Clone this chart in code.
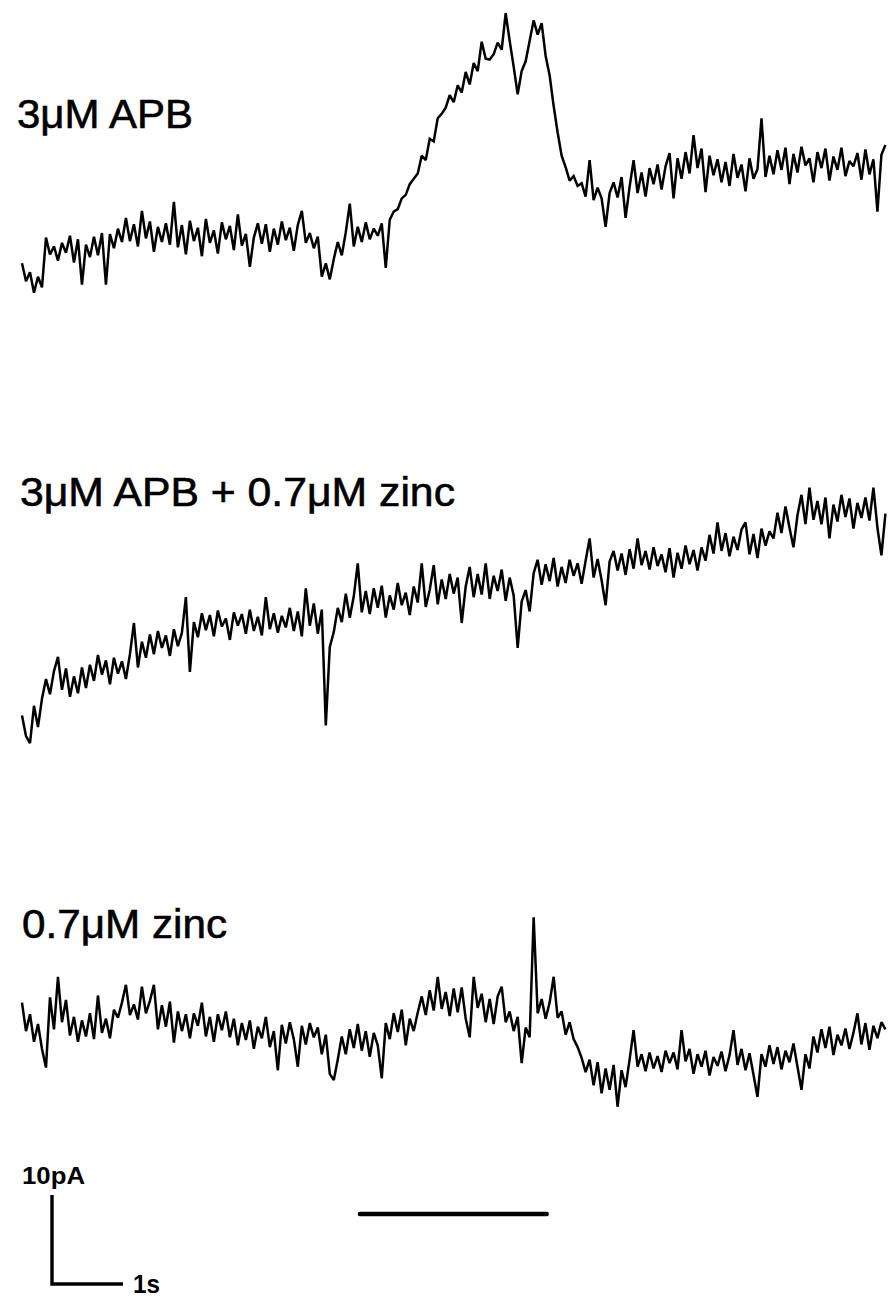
<!DOCTYPE html>
<html>
<head>
<meta charset="utf-8">
<script src="https://cdn.jsdelivr.net/npm/d3@7"></script>
<style>
  body { margin: 0; background: #fff; }
  svg { display: block; }
</style>
</head>
<body>
<div id="container"></div>
<script>
"use strict";

const plotWidth = 889;
const plotHeight = 1297;

// recording: one sample every 56.3 ms, values in pA relative to each trace's baseline
const sampleInterval = 0.0563;

const apbTrace = [
  -1.5, -3.5, -2.5, -4.8, -3.0, -4.2, 1.4, -0.5, 0.4, -1.2,
  0.8, -0.3, 1.6, -1.4, 1.2, -3.9, 0.6, -0.8, 1.5, -0.6,
  1.9, -3.9, 1.8, 0.2, 2.4, 0.9, 3.6, 1.0, 2.9, 0.4,
  4.4, 1.3, 3.2, -0.2, 2.6, 0.9, 3.0, 0.6, 5.4, 0.3,
  2.8, -0.5, 3.3, 1.0, 2.5, -0.7, 3.5, 0.8, 2.2, -0.4,
  3.1, 1.2, 2.7, 0.0, 4.0, 0.5, 1.8, -1.9, 1.4, 3.0,
  0.7, 2.9, -0.2, 2.4, 0.6, 3.2, 1.1, 2.5, -0.1, 2.8,
  4.4, 0.8, 1.9, 0.2, 1.5, -3.0, -1.5, -3.3, -1.0, 0.9,
  -0.6, 2.0, 5.2, 0.4, 2.6, 0.9, 3.1, 1.2, 2.4, 1.6,
  3.0, -2.0, 3.4, 4.3, 4.6, 5.8, 6.2, 7.4, 8.0, 8.6,
  10.6, 10.1, 12.5, 12.2, 14.8, 15.3, 16.0, 17.4, 16.6, 18.5,
  17.7, 20.0, 18.6, 21.0, 20.1, 23.4, 21.5, 21.4, 22.0, 23.3,
  22.5, 26.6, 23.5, 20.6, 17.5, 20.1, 21.2, 23.5, 25.8, 24.2,
  25.5, 21.8, 19.6, 16.2, 13.2, 10.6, 9.3, 7.8, 8.3, 7.2,
  7.5, 6.0, 10.1, 5.6, 7.0, 5.8, 2.6, 6.4, 7.6, 5.9,
  8.2, 3.6, 7.1, 10.1, 6.4, 8.7, 6.0, 9.2, 7.4, 9.6,
  6.8, 9.4, 10.9, 5.8, 10.3, 8.0, 11.0, 8.6, 12.9, 9.2,
  11.4, 6.5, 10.6, 8.4, 10.2, 7.6, 9.9, 7.2, 10.8, 8.1,
  9.6, 6.6, 10.3, 8.0, 9.1, 14.8, 8.2, 10.6, 8.5, 11.2,
  9.0, 11.5, 7.4, 10.8, 8.7, 11.6, 9.5, 10.3, 7.6, 11.0,
  9.2, 11.4, 7.8, 10.5, 9.0, 11.5, 8.3, 10.0, 9.4, 10.9,
  7.9, 11.3, 8.5, 10.2, 4.3, 10.7, 11.8,
];

const apbZincTrace = [
  0.5, -1.8, -2.6, 1.6, -0.8, 2.4, 4.6, 2.9, 5.5, 7.1,
  3.4, 5.8, 2.6, 4.9, 3.0, 5.9, 3.6, 6.2, 4.4, 7.3,
  5.1, 6.7, 4.0, 7.0, 5.2, 6.6, 4.6, 7.4, 10.9, 5.9,
  8.8, 7.0, 9.6, 7.4, 10.0, 8.1, 9.5, 7.2, 10.2, 8.3,
  9.8, 13.8, 5.4, 11.0, 9.3, 12.0, 10.1, 11.8, 9.4, 12.3,
  10.5, 11.4, 9.0, 12.1, 10.6, 11.9, 9.7, 12.4, 10.0, 11.6,
  9.5, 13.8, 10.2, 12.0, 9.8, 11.7, 10.4, 12.6, 10.0, 12.2,
  9.4, 14.8, 10.6, 13.1, 9.7, 12.4, -0.6, 8.2, 9.9, 12.6,
  11.0, 14.2, 11.5, 13.9, 17.6, 12.1, 14.5, 11.9, 14.8, 12.6,
  15.1, 11.5, 14.0, 12.4, 15.4, 12.9, 14.3, 11.8, 15.0, 13.2,
  17.6, 12.7, 14.6, 17.4, 13.0, 15.8, 13.6, 16.4, 14.2, 16.0,
  10.9, 15.0, 17.2, 13.8, 16.4, 14.1, 17.6, 13.6, 16.2, 14.5,
  16.9, 13.4, 16.0, 14.0, 8.1, 13.3, 14.6, 12.2, 16.5, 18.0,
  15.2, 17.5, 15.6, 18.2, 15.0, 17.2, 15.4, 18.0, 16.2, 17.6,
  15.3, 17.9, 20.4, 16.0, 18.1, 15.7, 12.9, 17.8, 19.0, 16.8,
  18.7, 16.3, 19.2, 17.0, 20.4, 17.4, 19.0, 16.9, 19.4, 17.3,
  18.6, 16.6, 19.3, 16.0, 18.8, 17.0, 19.6, 17.5, 19.1, 16.8,
  19.4, 17.9, 20.8, 18.7, 22.2, 19.0, 21.0, 18.4, 20.6, 19.1,
  21.4, 22.2, 18.6, 20.9, 18.2, 21.5, 19.6, 21.2, 20.4, 23.3,
  21.0, 24.0, 21.6, 19.4, 23.0, 25.3, 22.0, 26.1, 22.5, 24.6,
  22.0, 25.0, 20.4, 24.2, 22.3, 25.3, 22.8, 24.9, 21.5, 24.4,
  22.7, 25.0, 22.4, 26.1, 21.6, 18.5, 23.2,
];

const zincTrace = [
  4.2, 1.0, 2.9, -0.2, 1.8, -1.0, -3.1, 4.8, 1.2, 7.1,
  2.0, 4.5, 0.5, 2.6, -0.2, 2.2, 0.4, 3.0, 0.1, 5.0,
  0.8, 2.4, 0.2, 3.4, 2.5, 4.2, 6.2, 2.8, 4.0, 2.3,
  6.0, 3.0, 4.4, 6.2, 1.2, 3.9, 1.5, 4.3, -0.3, 3.2,
  1.0, 2.9, 0.2, 3.0, 1.6, 4.2, 0.4, 2.6, -0.2, 2.9,
  1.1, 3.2, 0.3, 2.4, -0.6, 1.9, 0.0, 2.2, -1.0, 1.5,
  0.2, 2.6, -0.8, 1.0, -3.4, 1.7, -0.4, 2.0, 0.1, -3.0,
  1.6, -0.5, 1.9, 0.3, 1.4, -1.6, 0.6, -3.8, -4.5, -2.2,
  0.4, -1.6, 1.2, -0.9, 1.8, -1.2, 1.0, -1.9, 0.8, -0.6,
  -4.3, 1.9, 0.1, 3.0, 0.9, 3.4, -0.6, 2.4, 1.0, 3.1,
  4.9, 2.8, 5.6, 3.3, 7.1, 3.5, 5.4, 2.7, 5.8, 3.1,
  5.9, 2.4, 0.3, 7.1, 3.6, 5.2, 2.0, 4.6, 1.8, 4.9,
  6.0, 2.0, 3.2, 1.0, 2.6, -2.6, 1.4, 0.3, 13.8, 3.0,
  4.6, 2.4, 4.2, 7.1, 2.5, 3.2, 0.6, 2.0, 0.1, -0.8,
  -2.0, -3.6, -2.2, -5.1, -2.5, -6.0, -3.2, -5.6, -2.8, -7.5,
  -3.4, -5.3, -2.2, 1.1, -3.0, -1.6, -3.5, -1.4, -3.2, -1.8,
  -3.6, -1.2, -2.6, -1.4, -3.3, 1.1, -2.4, -1.0, -3.8, -1.6,
  -3.0, -1.2, -4.0, -1.9, -2.9, -1.3, -3.5, -1.7, 1.1, -2.8,
  -1.0, -3.4, -1.5, -3.9, -6.4, -1.6, -3.0, -0.6, -2.7, -0.8,
  -3.3, -1.2, -2.5, -0.4, -3.0, -5.6, -1.6, -3.2, 0.4, -1.4,
  1.2, -0.9, 1.5, -1.7, 0.6, -0.6, 1.3, -1.0, 0.8, 3.0,
  -0.5, 1.9, -1.1, 1.6, 0.2, 2.0, 1.2,
];

const traceLabels = ["3μM APB", "3μM APB + 0.7μM zinc", "0.7μM zinc"];

// scale bar and drug application bar (s, pA)
const scaleBarCurrent = 10;
const scaleBarTime = 1;
const scaleBarLabels = ["10pA", "1s"];
const application = [4.76, 7.39];

// layout
const traceLeft = 22;
const pxPerSecond = 71;
const pxPerPicoamp = 8.9;
const traceBaselines = [250, 720, 1040];
const labelLayout = [
  { x: 17, y: 128, width: 176 },
  { x: 20, y: 506, width: 435 },
  { x: 22, y: 938, width: 205 },
];
const scaleBarOrigin = { x: 52, y: 1284 };
const applicationY = 1214;

const traces = [apbTrace, apbZincTrace, zincTrace];
const duration = (apbTrace.length - 1) * sampleInterval;

const xScale = d3
  .scaleLinear()
  .domain([0, duration])
  .range([traceLeft, traceLeft + duration * pxPerSecond]);

// relative current scale, placed under each trace's baseline
const yScale = d3
  .scaleLinear()
  .domain([0, scaleBarCurrent])
  .range([0, -scaleBarCurrent * pxPerPicoamp]);

const svg = d3
  .select("#container")
  .append("svg")
  .attr("width", plotWidth)
  .attr("height", plotHeight)
  .style("font-family", "'Liberation Sans', Arial, sans-serif");

const line = d3
  .line()
  .x((_d, i) => xScale(i * sampleInterval))
  .y((d) => yScale(d));

svg
  .selectAll("g.trace")
  .data(traces)
  .enter()
  .append("g")
  .attr("class", "trace")
  .attr("transform", (_d, i) => `translate(0, ${traceBaselines[i]})`)
  .append("path")
  .attr("d", (d) => line(d))
  .attr("fill", "none")
  .attr("stroke", "#000")
  .attr("stroke-width", 2.5)
  .attr("stroke-linejoin", "miter")
  .attr("stroke-miterlimit", 2);

svg
  .selectAll("text.label")
  .data(traceLabels)
  .enter()
  .append("text")
  .attr("class", "label")
  .attr("x", (_d, i) => labelLayout[i].x)
  .attr("y", (_d, i) => labelLayout[i].y)
  .attr("textLength", (_d, i) => labelLayout[i].width)
  .attr("lengthAdjust", "spacingAndGlyphs")
  .attr("stroke", "#000")
  .attr("stroke-width", 0.6)
  .style("font-size", "41px")
  .text((d) => d);

// drug application bar
svg
  .append("line")
  .attr("x1", xScale(application[0]))
  .attr("x2", xScale(application[1]))
  .attr("y1", applicationY)
  .attr("y2", applicationY)
  .attr("stroke", "#000")
  .attr("stroke-width", 4.5)
  .attr("stroke-linecap", "round");

// scale bar
const barWidth = xScale(scaleBarTime) - xScale(0);
const barHeight = -yScale(scaleBarCurrent);

svg
  .append("path")
  .attr(
    "d",
    `M${scaleBarOrigin.x},${scaleBarOrigin.y - barHeight}` +
      `V${scaleBarOrigin.y}H${scaleBarOrigin.x + barWidth}`
  )
  .attr("fill", "none")
  .attr("stroke", "#000")
  .attr("stroke-width", 3.4);

svg
  .append("text")
  .attr("x", 22)
  .attr("y", scaleBarOrigin.y - barHeight - 11)
  .attr("textLength", 63)
  .attr("lengthAdjust", "spacingAndGlyphs")
  .style("font-size", "24px")
  .style("font-weight", "bold")
  .text(scaleBarLabels[0]);

svg
  .append("text")
  .attr("x", scaleBarOrigin.x + barWidth + 10)
  .attr("y", scaleBarOrigin.y + 9)
  .attr("textLength", 27)
  .attr("lengthAdjust", "spacingAndGlyphs")
  .style("font-size", "25px")
  .style("font-weight", "bold")
  .text(scaleBarLabels[1]);
</script>
</body>
</html>
